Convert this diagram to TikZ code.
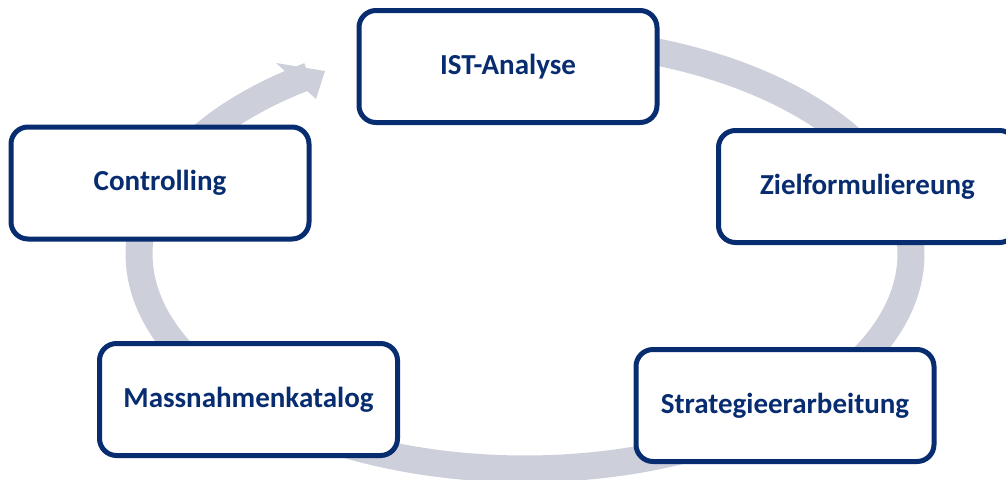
\documentclass[tikz,border=0pt]{standalone}
\usepackage{fontspec}
\setmainfont{Carlito}
\definecolor{navy}{RGB}{8,44,112}
\definecolor{ringgray}{RGB}{205,208,218}
\begin{document}
\begin{tikzpicture}[x=1pt,y=-1pt,
  stepbox/.style={draw=navy, line width=5pt, fill=white, rounded corners=17pt,
    minimum width=298pt, minimum height=112pt, inner sep=0pt,
    text=navy, font=\fontsize{29}{35}\selectfont\bfseries}]
\useasboundingbox (0,0) rectangle (1006,479);
% ring
\draw[ringgray, line width=27pt] plot[domain=275:596, samples=120, smooth]
  ({525+386*cos(\x)}, {254+215*sin(\x)});
\coordinate (h1) at (276,63);
\coordinate (h2) at (325,71);
\coordinate (h3) at (316,99);
\fill[ringgray] (h1) -- (h2) -- (h3) -- cycle;
% boxes
\node[stepbox] (ist) at (508,66.5) {IST-Analyse};
\node[stepbox] (ziel) at (867.5,186.5) {Zielformuliereung};
\node[stepbox] (strat) at (785,405.5) {Strategieerarbeitung};
\node[stepbox] (mass) at (248.5,399.5) {Massnahmenkatalog};
\node[stepbox] (ctrl) at (160,183) {Controlling};
\end{tikzpicture}
\end{document}
